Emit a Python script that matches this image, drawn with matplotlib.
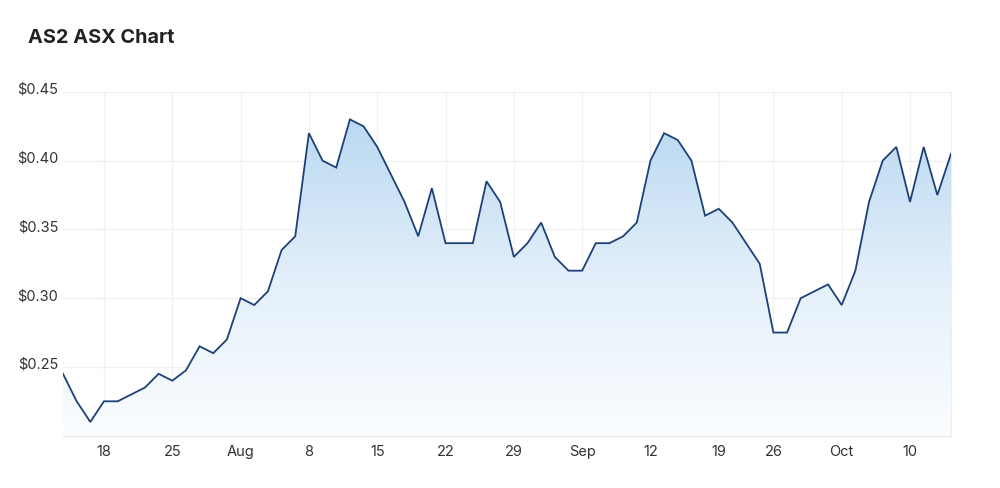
import numpy as np
import pandas as pd
import matplotlib
matplotlib.use("Agg")
import matplotlib.pyplot as plt
import matplotlib.transforms as mtransforms
from matplotlib.colors import LinearSegmentedColormap

plt.rcParams['font.family'] = ['Inter', 'DejaVu Sans']

# trading days, 13 Jul 2022 - 13 Oct 2022 (22 Sep was a market holiday)
dates = pd.bdate_range('2022-07-13', '2022-10-13')
dates = dates[dates != pd.Timestamp('2022-09-22')]

prices = [
    0.245, 0.225, 0.21, 0.225, 0.225, 0.23, 0.235, 0.245, 0.24, 0.2475,
    0.265, 0.26, 0.27, 0.30, 0.295, 0.305, 0.335, 0.345, 0.42, 0.40,
    0.395, 0.43, 0.425, 0.41, 0.39, 0.37, 0.345, 0.38, 0.34, 0.34,
    0.34, 0.385, 0.37, 0.33, 0.34, 0.355, 0.33, 0.32, 0.32, 0.34,
    0.34, 0.345, 0.355, 0.40, 0.42, 0.415, 0.40, 0.36, 0.365, 0.355,
    0.34, 0.325, 0.275, 0.275, 0.30, 0.305, 0.31, 0.295, 0.32, 0.37,
    0.40, 0.41, 0.37, 0.41, 0.375, 0.405,
]
y_ticks = [0.25, 0.30, 0.35, 0.40, 0.45]

x = np.arange(len(prices))
y = np.array(prices)

# weekly ticks at the first trading day of each week, month name when it changes
tick_pos, tick_lab = [], []
prev_month = dates[0].month
for i in range(1, len(dates)):
    if dates[i].weekday() < dates[i - 1].weekday() or (dates[i] - dates[i - 1]).days > 3:
        d = dates[i]
        tick_pos.append(i)
        tick_lab.append(d.strftime('%b') if d.month != prev_month else str(d.day))
        prev_month = d.month

fig = plt.figure(figsize=(10, 4.89), dpi=100)
ax = fig.add_axes([0.063, 0.107, 0.888, 0.703])

ymin, ymax = 0.20, 0.45
ax.set_xlim(x[0], x[-1])
ax.set_ylim(ymin, ymax)

# gradient fill under the line
cmap = LinearSegmentedColormap.from_list('blues', ['#fbfdff', '#e3effa', '#bad9f2'])
grad = np.linspace(0, 1, 256).reshape(-1, 1)
img = ax.imshow(grad, cmap=cmap, aspect='auto', origin='lower',
                extent=[x[0], x[-1], ymin, y.max()], zorder=1)
poly = ax.fill_between(x, y, ymin, facecolor='none', edgecolor='none')
clip = poly.get_paths()[0]
img.set_clip_path(clip, transform=ax.transData)

ax.plot(x, y, color='#1d4176', lw=1.3, zorder=3, solid_joinstyle='miter')

ax.set_yticks(y_ticks)
ax.set_yticklabels([f'${v:.2f}' for v in y_ticks])
ax.set_xticks(tick_pos)
ax.set_xticklabels(tick_lab)

ax.grid(True, color='#f0f0f0', lw=1, zorder=0)
ax.set_axisbelow(True)
for side in ['top', 'left']:
    ax.spines[side].set_visible(False)
ax.spines['bottom'].set_color('#e6e6e6')
ax.spines['right'].set_color('#eeeeee')
ax.tick_params(axis='both', length=0, labelsize=10.5, labelcolor='#333333')
ax.tick_params(axis='y', pad=3.5)
ax.tick_params(axis='x', pad=6)
# y labels sit a little above their gridline
shift = mtransforms.ScaledTranslation(0, 3 / 100, fig.dpi_scale_trans)
for lab in ax.get_yticklabels():
    lab.set_verticalalignment('center')
    lab.set_transform(lab.get_transform() + shift)

fig.text(0.028, 0.922, 'AS2 ASX Chart', fontsize=14.3, fontweight='bold',
         color='#222222', va='center', ha='left')

fig.savefig('out.png', dpi=100)
